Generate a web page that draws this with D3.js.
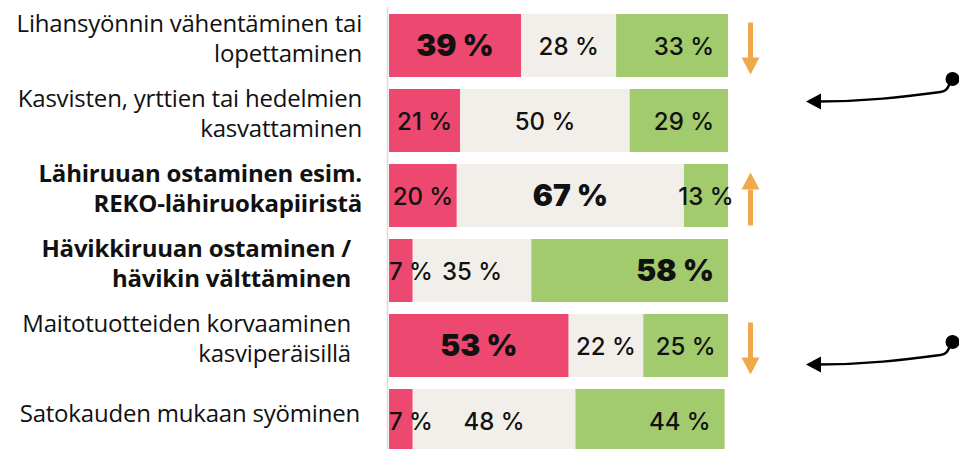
<!DOCTYPE html>
<html>
<head>
<meta charset="utf-8">
<script src="https://cdn.jsdelivr.net/npm/d3@7"></script>
<style>
  html, body { margin: 0; padding: 0; background: #fff; }
  svg { display: block; }
  .cat { font-family: "Open Sans", "Noto Sans", sans-serif; font-size: 24px; fill: #111; letter-spacing: -0.2px; }
  .cat.bold { font-weight: 700; }
  .val { font-family: Inter, "Open Sans", sans-serif; font-size: 24px; font-weight: 500; fill: #111; }
  .val.bold { font-weight: 900; font-size: 30px; }
</style>
</head>
<body>
<svg id="chart" width="959" height="449"></svg>
<script>
// Categories (split into the lines shown in the picture)
const categories = [
    ['Lihansyönnin vähentäminen tai', 'lopettaminen'],
    ['Kasvisten, yrttien tai hedelmien', 'kasvattaminen'],
    ['Lähiruuan ostaminen esim.', 'REKO-lähiruokapiiristä'],
    ['Hävikkiruuan ostaminen /', 'hävikin välttäminen'],
    ['Maitotuotteiden korvaaminen', 'kasviperäisillä'],
    ['Satokauden mukaan syöminen']
];

// Shares in percent, one array per series
const redShare   = [39, 21, 20, 7, 53, 7];
const greyShare  = [28, 50, 67, 35, 22, 48];
const greenShare = [33, 29, 13, 58, 25, 44];

// Annotations
const boldCategory = [false, false, true, true, false, false];
const emphasisSeries = [0, null, 1, 2, 0, null];   // which value label is bold
const trend = ['down', null, 'up', null, 'down', null];
const callouts = [1, 4];                            // rows with a black pointer

const colors = ['#ec4870', '#f2efea', '#a1cb6c'];
const arrowColor = '#efa94a';

const svg = d3.select('#chart');
const W = 959, H = 449;

const x = d3.scaleLinear().domain([0, 100]).range([389, 728]);
const y = d3.scaleBand()
    .domain(d3.range(categories.length))
    .range([8, 458])
    .paddingInner(0.16)
    .paddingOuter(0.08);

// labels in the source are not all flush to the same edge
const labelRight = [362, 362, 362, 351, 351, 360];

const rows = categories.map((c, i) => {
    const vals = [redShare[i], greyShare[i], greenShare[i]];
    let acc = 0;
    const segs = vals.map((v, k) => {
        const s = { row: i, k, v, x0: acc, x1: acc + v };
        acc += v;
        return s;
    });
    return { i, lines: c, segs };
});

// vertical axis line
svg.append('line')
    .attr('x1', 387.5).attr('x2', 387.5)
    .attr('y1', 7).attr('y2', H)
    .attr('stroke', '#dcdcdc')
    .attr('stroke-width', 1.5);

// bars
const rowG = svg.selectAll('g.row')
    .data(rows)
    .enter()
    .append('g')
    .attr('class', 'row');

rowG.selectAll('rect')
    .data(d => d.segs)
    .enter()
    .append('rect')
    .attr('x', d => x(d.x0))
    .attr('y', d => y(d.row))
    .attr('width', d => x(d.x1) - x(d.x0))
    .attr('height', y.bandwidth())
    .attr('fill', d => colors[d.k]);

// value labels
rowG.selectAll('text.val')
    .data(d => d.segs)
    .enter()
    .append('text')
    .attr('class', d => emphasisSeries[d.row] === d.k ? 'val bold' : 'val')
    .attr('y', d => y(d.row) + y.bandwidth() / 2 + (emphasisSeries[d.row] === d.k ? 10.5 : 9))
    .text(d => `${d.v} %`)
    .each(function(d) {
        const t = d3.select(this);
        const tw = this.getComputedTextLength();
        const a = x(d.x0), b = x(d.x1), w = b - a;
        if (d.k === 0 && w < tw + 4) {
            t.attr('text-anchor', 'start').attr('x', a);
        } else if (d.k === 2 && w >= tw + 30) {
            t.attr('text-anchor', 'end').attr('x', b - 14);
        } else {
            t.attr('text-anchor', 'middle').attr('x', (a + b) / 2);
        }
    });

// category labels
rowG.append('text')
    .attr('class', d => boldCategory[d.i] ? 'cat bold' : 'cat')
    .attr('text-anchor', 'end')
    .each(function(d) {
        const n = d.lines.length;
        const cy = y(d.i) + y.bandwidth() / 2;
        d3.select(this).selectAll('tspan')
            .data(d.lines)
            .enter()
            .append('tspan')
            .attr('x', labelRight[d.i])
            .attr('y', (l, j) => cy + (j - (n - 1) / 2) * 30 + 1)
            .text(l => l);
    });

// orange trend arrows
rows.filter(d => trend[d.i]).forEach(d => {
    const cx = 750.5;
    const cy = y(d.i) + y.bandwidth() / 2 + 3;
    const half = 26, head = 17, hw = 9;
    const dir = trend[d.i] === 'down' ? 1 : -1;
    const tip = cy + dir * half;
    const tail = cy - dir * half;
    const g = svg.append('g').attr('fill', arrowColor);
    g.append('rect')
        .attr('x', cx - 2.5)
        .attr('y', Math.min(tail, tip - dir * head))
        .attr('width', 5)
        .attr('height', Math.abs(tip - dir * head - tail) + 1);
    g.append('path')
        .attr('d', `M${cx - hw},${tip - dir * head} L${cx + hw},${tip - dir * head} L${cx},${tip} Z`);
});

// black pointers from the right edge
const calloutShift = { 1: -19, 4: 19 };
callouts.forEach(i => {
    const cy = y(i) + y.bandwidth() / 2 + calloutShift[i];
    const dotX = 952.5, dotY = cy - 22.5;
    const tipX = 806;
    const g = svg.append('g');
    g.append('path')
        .attr('d', `M${dotX},${dotY} C${dotX - 4},${dotY + 4} ${dotX - 3},${dotY + 12} ${dotX - 12},${dotY + 13}
                    C${dotX - 50},${dotY + 18} ${tipX + 60},${cy} ${tipX + 12},${cy}`)
        .attr('fill', 'none')
        .attr('stroke', '#000')
        .attr('stroke-width', 2.5);
    g.append('circle')
        .attr('cx', dotX).attr('cy', dotY)
        .attr('r', 7)
        .attr('fill', '#000');
    g.append('path')
        .attr('d', `M${tipX},${cy} L${tipX + 15},${cy - 8} L${tipX + 15},${cy + 8} Z`)
        .attr('fill', '#000');
});
</script>
</body>
</html>
